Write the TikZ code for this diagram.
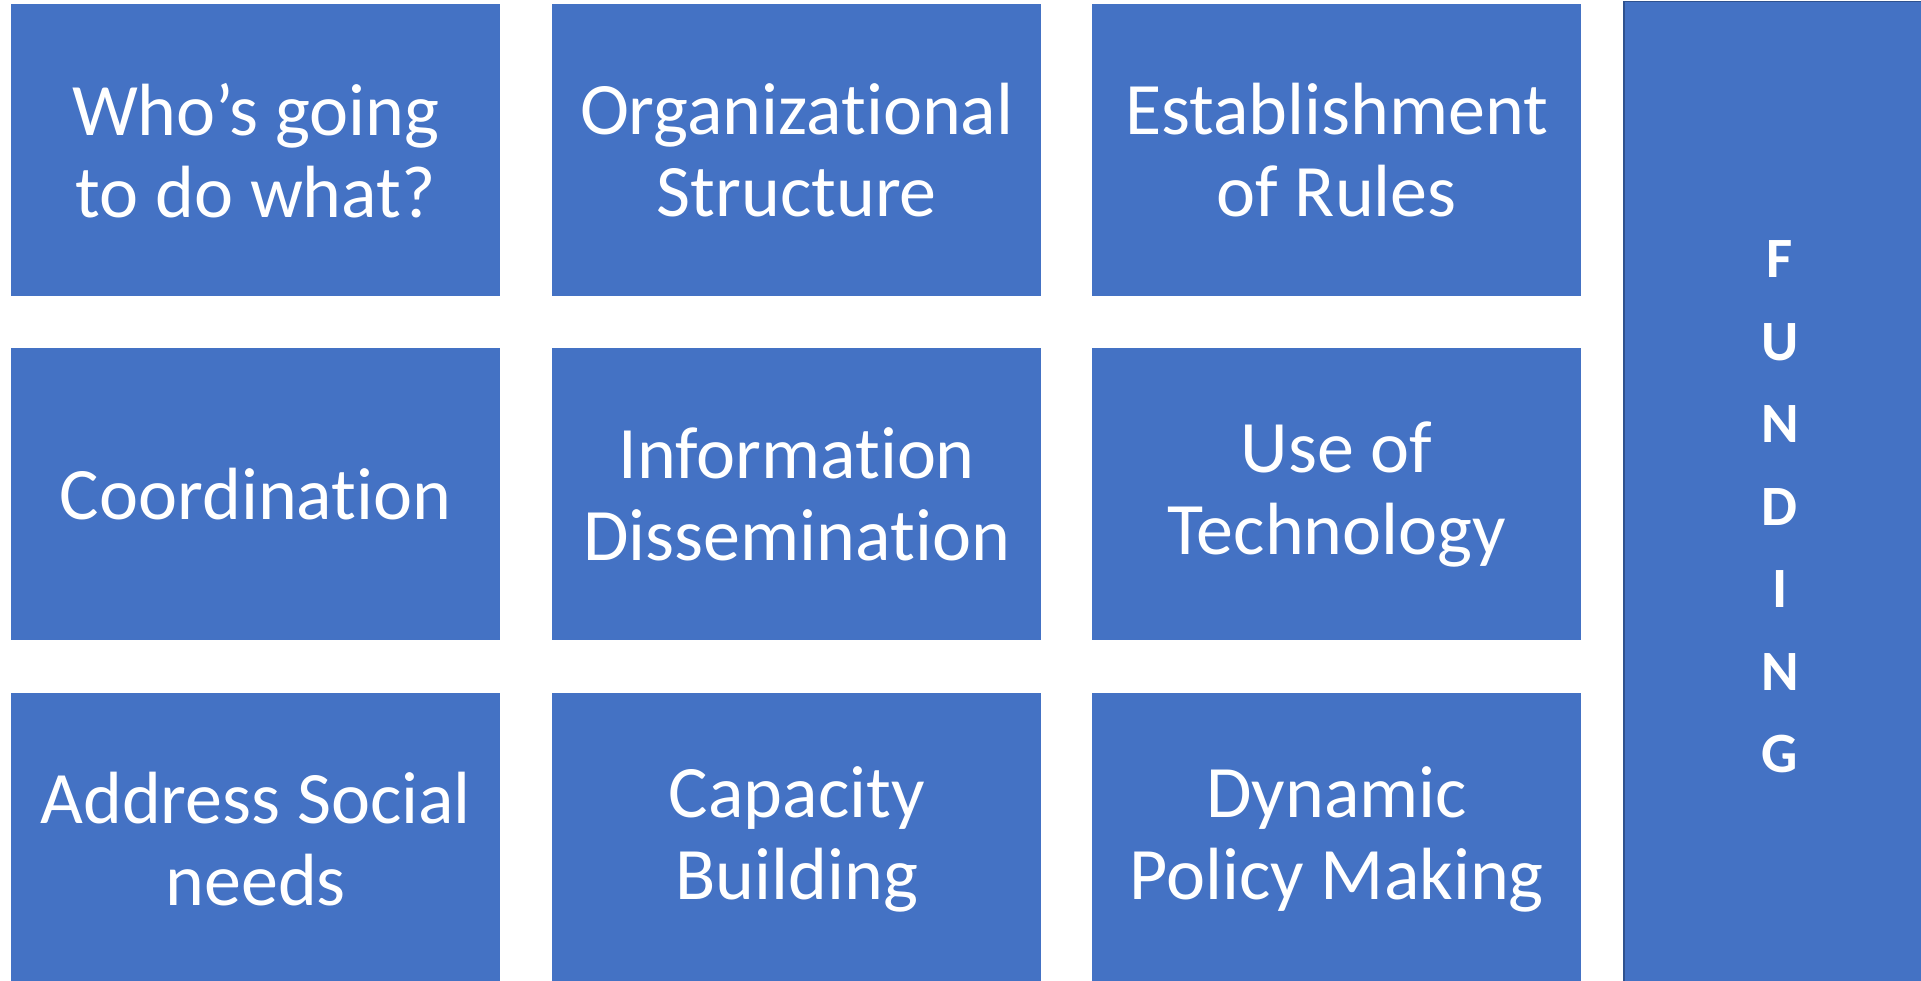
\documentclass[tikz,border=0pt]{standalone}
\usepackage{fontspec}
\setmainfont{Carlito}[Ligatures=NoCommon]
\definecolor{boxblue}{HTML}{4472C4}
\definecolor{edgeblue}{HTML}{2F528F}
\begin{document}
\begin{tikzpicture}[x=1pt,y=-1pt,
  cell/.style={fill=boxblue, draw=none, minimum width=489pt, minimum height=292pt,
    inner sep=0pt, text=white, align=center, anchor=north west,
    font=\fontsize{74}{82}\selectfont},
  fundbox/.style={fill=boxblue, draw=edgeblue, line width=1.5pt, minimum width=312pt,
    minimum height=1010pt, inner sep=0pt, text=white, align=center, anchor=north west,
    font=\fontsize{57}{82.5}\selectfont\bfseries}]
\useasboundingbox (0,0) rectangle (1921,981);
\clip (0,0) rectangle (1921,981);
\fill[white] (0,0) rectangle (1921,981);
\node[cell] (a1) at (11,4) {Who’s going\\to do what?};
\node[cell] (a2) at (552,4) {Organizational\\Structure};
\node[cell] (a3) at (1092,4) {Establishment\\of Rules};
\node[cell] (b1) at (11,348) {Coordination};
\node[cell] (b2) at (552,348) {Information\\Dissemination};
\node[cell] (b3) at (1092,348) {Use of\\Technology};
\node[cell] (c1) at (11,693) {Address Social\\needs};
\node[cell] (c2) at (552,693) {Capacity\\Building};
\node[cell] (c3) at (1092,693) {Dynamic\\Policy Making};
\node[fundbox] (f) at (1623,1) {F\\U\\N\\D\\I\\N\\G};
\end{tikzpicture}
\end{document}
